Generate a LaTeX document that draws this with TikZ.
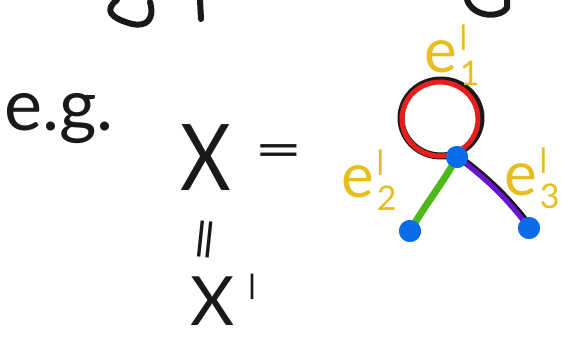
\documentclass[tikz,border=0pt]{standalone}
\usepackage{fontspec}
\setmainfont{Lato}
\newfontfamily\primefont{Lato}[FakeBold=4]
\definecolor{inkblack}{RGB}{25,25,25}
\definecolor{vblue}{RGB}{10,108,230}
\definecolor{lred}{RGB}{232,30,30}
\definecolor{lgreen}{RGB}{76,184,26}
\definecolor{lpurple}{RGB}{104,20,208}
\definecolor{lyellow}{RGB}{232,190,30}
\newcommand{\myprime}[1]{{\primefont\fontsize{#1}{#1}\selectfont |}}
\newcommand{\elab}[1]{e\kern3pt\raisebox{-0.22em}{\fontsize{34}{34}\selectfont\rlap{\raisebox{1.2em}{\myprime{26}}}#1}}
\begin{document}
\begin{tikzpicture}[x=1pt,y=-1pt,
  ink/.style={line width=6pt,line cap=round,line join=round,draw=inkblack},
  hand/.style={text=inkblack,inner sep=0pt},
  elabel/.style={text=lyellow,inner sep=0pt,font=\fontsize{62}{62}\selectfont},
  vertex/.style={circle,fill=vblue,minimum size=22pt,inner sep=0pt}]
\useasboundingbox (0,0) rectangle (573,338);
% fragments of the line above
\draw[ink] (117,0) .. controls (104,10) and (110,18) .. (132,24) .. controls (146,27) and (155,20) .. (150,2);
\draw[ink] (200,0) -- (201,19);
\draw[ink] (467,0) .. controls (474,18) and (500,18) .. (507,8) -- (507,0);
% text
\node[hand,anchor=base west,font=\fontsize{72}{72}\selectfont] (eg) at (4,130) {e.g.};
\node[hand,anchor=base,xscale=0.85,font=\fontsize{92}{92}\selectfont] (X) at (206,190) {X};
\node[hand,yscale=0.6,font=\fontsize{84}{84}\selectfont] (eq) at (279,156) {=};
\node[hand,rotate=84,yscale=0.6,font=\fontsize{84}{84}\selectfont] (veq) at (211,240) {=};
\node[hand,anchor=base west,font=\fontsize{68}{68}\selectfont] (Xp) at (190,325) {X};
\node[hand,anchor=north,font=\primefont\fontsize{26}{26}\selectfont] (pr) at (252,274) {|};
% graph
\node[vertex] (c) at (457,157) {};
\node[vertex] (l) at (410,231) {};
\node[vertex] (r) at (529,228) {};
\draw[line width=7pt,draw=inkblack] (441,118) ellipse [x radius=40, y radius=38];
\draw[line width=5pt,draw=lred,line cap=round] (440,119) ++(80:38 and 37) arc[start angle=80,end angle=416,x radius=38,y radius=37];
\draw[line width=7pt,draw=lgreen,line cap=round] (c.center) .. controls (445,180) and (425,205) .. (l.center);
\draw[line width=7pt,draw=inkblack,line cap=round] ([xshift=2pt]c.center) .. controls (490,180) and (510,200) .. ([xshift=2pt]r.center);
\draw[line width=5pt,draw=lpurple,line cap=round] (c.center) .. controls (488,180) and (508,200) .. (r.center);
\node[vertex] at (c) {};
\node[vertex] at (l) {};
\node[vertex] at (r) {};
% labels
\node[elabel,anchor=base west] (e1) at (424,72) {\elab{1}};
\node[elabel,anchor=base west] (e2) at (341,197) {\elab{2}};
\node[elabel,anchor=base west] (e3) at (504,195) {\elab{3}};
\end{tikzpicture}
\end{document}
